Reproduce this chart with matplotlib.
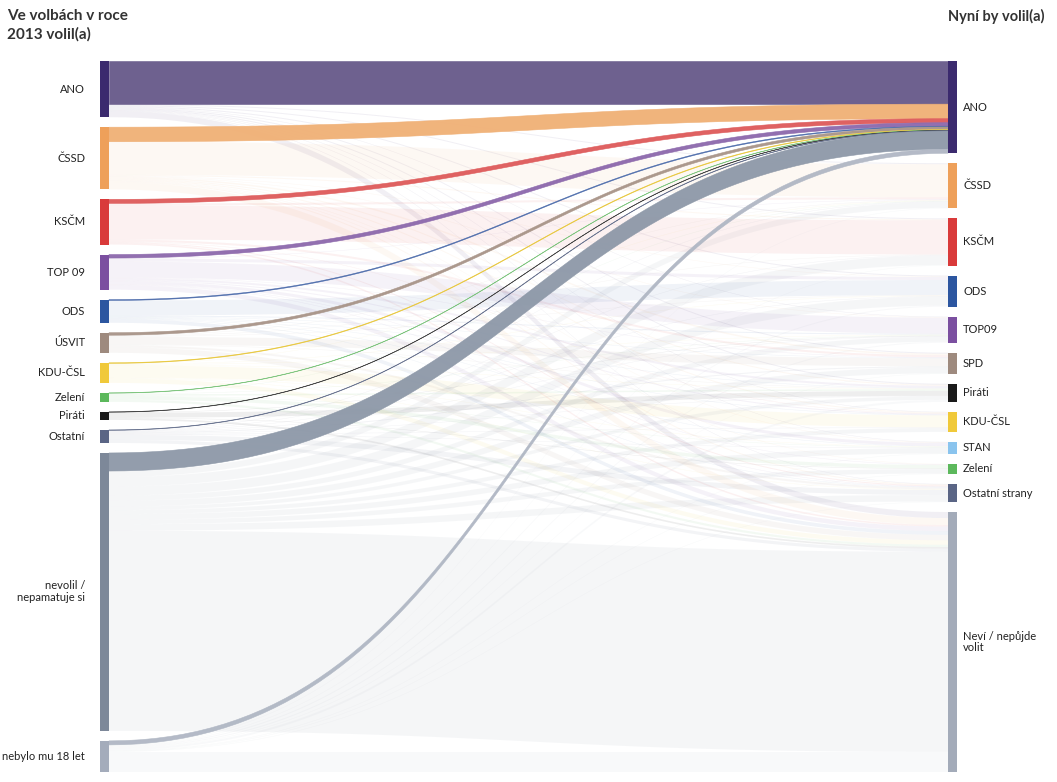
import numpy as np
import matplotlib.pyplot as plt

plt.rcParams['font.family'] = ['Lato', 'DejaVu Sans']

# 2013 vote (left) and current intention (right)
sources = ['ANO', 'ČSSD', 'KSČM', 'TOP 09', 'ODS', 'ÚSVIT', 'KDU-ČSL', 'Zelení',
           'Piráti', 'Ostatní', 'nevolil /\nnepamatuje si', 'nebylo mu 18 let']
targets = ['ANO', 'ČSSD', 'KSČM', 'ODS', 'TOP09', 'SPD', 'Piráti', 'KDU-ČSL',
           'STAN', 'Zelení', 'Ostatní strany', 'Neví / nepůjde\nvolit']

source_colors = ['#3b2a6e', '#eea05a', '#d93a3a', '#7b4fa0', '#2c56a0', '#9e8a7e',
                 '#f0c93a', '#5cb85c', '#1a1a1a', '#5a6585', '#7d8899', '#a4acbb']
target_colors = ['#3b2a6e', '#eea05a', '#d93a3a', '#2c56a0', '#7b4fa0', '#9e8a7e',
                 '#1a1a1a', '#f0c93a', '#8ac4ee', '#5cb85c', '#5a6585', '#a3abb9']
link_colors = ['#665889', '#f0b075', '#de5a5a', '#8c68ac', '#4a6aaa', '#a89488',
               '#e8c840', '#7cc47c', '#404040', '#6a7490', '#8d98a8', '#b0b7c4']

# flows, rows = sources, cols = targets (estimated)
flows = np.array([
    # ANO ČSSD KSČM ODS TOP09 SPD Pir KDU STAN Zel Ost Neví
    [43, 1, 1, 1, 0.5, 1, 1, 0.5, 0.5, 0, 0.5, 6],
    [14.5, 33, 1, 0.5, 0.5, 1.5, 1, 1, 0.5, 0.5, 1, 7],
    [4, 2, 34, 0, 0, 2, 0, 0.5, 0, 0, 1, 1.5],
    [3.5, 0.5, 0, 3, 16, 0.5, 2, 1, 3, 0.5, 0.5, 4.5],
    [0.8, 0, 0, 15, 1, 0.5, 0.5, 0.5, 0.5, 0, 0.5, 3.7],
    [2.5, 0.5, 0.5, 0.5, 0, 8, 0.5, 0, 0, 0, 2, 5.5],
    [0.6, 0.5, 0, 0.5, 0.5, 0, 0.5, 12, 0.5, 0, 0.5, 4.4],
    [0.3, 0.5, 0, 0, 0.5, 0, 1.5, 0, 0.5, 3.5, 0, 2.2],
    [0.3, 0, 0, 0, 0.5, 0, 5, 0, 0, 0.5, 0, 1.7],
    [0.4, 0.5, 0.5, 0.5, 0.5, 1, 0.5, 0.5, 0.5, 0, 5, 3.1],
    [18, 6, 9.5, 9, 5, 6, 3.5, 4, 5.5, 4.5, 6.5, 199.5],
    [4, 0.5, 0.5, 1, 1, 0.5, 2, 0, 0.5, 0.5, 0.5, 20],
])

fig = plt.figure(figsize=(10.57, 7.82), dpi=100)
ax = fig.add_axes([0, 0, 1, 1])
ax.set_xlim(0, 1057)
ax.set_ylim(782, 0)
ax.axis('off')

top, bottom, gap = 61, 772, 10
x_left, x_right, node_w = 100, 948, 9

left_tot = flows.sum(axis=1)
right_tot = flows.sum(axis=0)
scale = (bottom - top - gap * (len(sources) - 1)) / left_tot.sum()


def stack(totals):
    ys = []
    y = top
    for t in totals:
        ys.append(y)
        y += t * scale + gap
    return np.array(ys)


left_y = stack(left_tot)
right_y = stack(right_tot)

# link offsets inside nodes
src_off = np.zeros((len(sources), len(targets)))
for i in range(len(sources)):
    y = left_y[i]
    for j in range(len(targets)):
        src_off[i, j] = y
        y += flows[i, j] * scale
tgt_off = np.zeros((len(sources), len(targets)))
for j in range(len(targets)):
    y = right_y[j]
    for i in range(len(sources)):
        tgt_off[i, j] = y
        y += flows[i, j] * scale

t = np.linspace(0, 1, 80)
x0, x1 = x_left + node_w, x_right
xm = (x0 + x1) / 2
bx = (1 - t) ** 3 * x0 + 3 * (1 - t) ** 2 * t * xm + 3 * (1 - t) * t ** 2 * xm + t ** 3 * x1
by = 3 * (1 - t) * t ** 2 + t ** 3


def draw_link(i, j, color, alpha, lw):
    w = flows[i, j] * scale
    if w <= 0:
        return
    ya, yb = src_off[i, j], tgt_off[i, j]
    ytop = ya + (yb - ya) * by
    xs = np.concatenate([bx, bx[::-1]])
    ys = np.concatenate([ytop, ytop[::-1] + w])
    ax.fill(xs, ys, color=color, alpha=alpha, lw=lw, ec=color if lw else 'none')


# faint links first, highlighted links into ANO on top
for i in range(len(sources)):
    for j in range(1, len(targets)):
        draw_link(i, j, source_colors[i], 0.07, 0)
for i in range(len(sources)):
    draw_link(i, 0, link_colors[i], 0.95, 0.4)

for i, name in enumerate(sources):
    h = left_tot[i] * scale
    ax.add_patch(plt.Rectangle((x_left, left_y[i]), node_w, h, color=source_colors[i], lw=0))
    ax.text(85, left_y[i] + h / 2, name, ha='right', va='center', fontsize=8, color='#222222',
            linespacing=1.1)
for j, name in enumerate(targets):
    h = right_tot[j] * scale
    ax.add_patch(plt.Rectangle((x_right, right_y[j]), node_w, h, color=target_colors[j], lw=0))
    ax.text(963, right_y[j] + h / 2, name, ha='left', va='center', fontsize=8, color='#222222',
            linespacing=0.9)

ax.text(7, 25, 'Ve volbách v roce\n2013 volil(a)', ha='left', va='center', fontsize=11,
        fontweight='bold', color='#333333', linespacing=1.35)
ax.text(948, 16, 'Nyní by volil(a)', ha='left', va='center', fontsize=10.5,
        fontweight='bold', color='#333333')

fig.savefig('out.png', dpi=100)
